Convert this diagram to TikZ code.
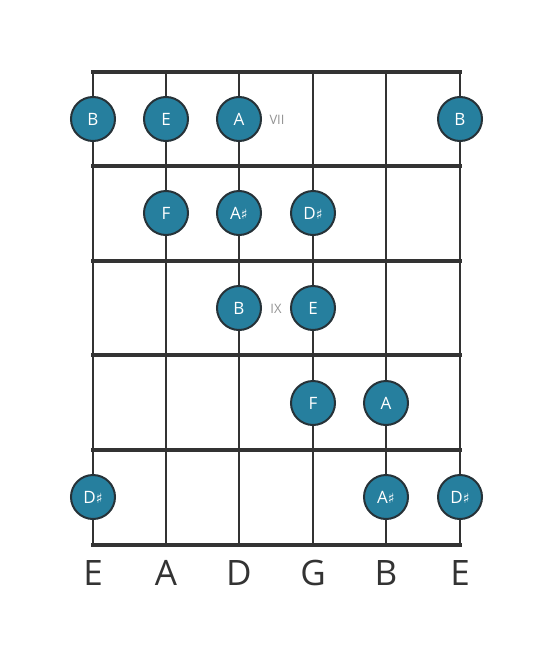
\documentclass[tikz,border=0pt]{standalone}
\usepackage{fontspec}
\setmainfont{Open Sans}
\newfontfamily\symfont{DejaVu Sans}
\definecolor{notefill}{HTML}{267F9E}
\definecolor{lineclr}{HTML}{333333}
\definecolor{edgeclr}{HTML}{263238}
\newcommand{\shp}{{\symfont\fontsize{14}{14}\selectfont ♯}}
\begin{document}
\begin{tikzpicture}[x=1pt,y=-1pt,
  stringline/.style={draw=lineclr,line width=2.4pt},
  fretline/.style={draw=lineclr,line width=4.8pt},
  note/.style={circle,fill=notefill,draw=edgeclr,line width=2pt,minimum size=44pt,inner sep=0pt,text=white,font=\fontsize{17}{17}\selectfont},
  fretlabel/.style={text=gray!85,font=\fontsize{13}{13}\selectfont,inner sep=0pt},
  strlabel/.style={text=lineclr,font=\fontsize{35}{35}\selectfont,inner sep=0pt}]
\useasboundingbox (0,0) rectangle (553,656);
% strings
\foreach \x [count=\i] in {93,166,239,313,386,460} {
  \coordinate (st\i) at (\x,72);
  \coordinate (sb\i) at (\x,545);
  \draw[stringline] (st\i) -- (sb\i);
}
% frets
\foreach \y [count=\j] in {72,166,261,355,450,545} {
  \coordinate (fl\j) at (93,\y);
  \coordinate (fr\j) at (460,\y);
  \draw[fretline,line cap=rect] (fl\j) -- (fr\j);
}
% notes
\node[note] (n1) at (93,119) {B};
\node[note] (n2) at (166,119) {E};
\node[note] (n3) at (239,119) {A};
\node[note] (n4) at (460,119) {B};
\node[fretlabel] (vii) at (277,120) {VII};
\node[note] (n5) at (166,213) {F};
\node[note] (n6) at (239,213) {A\shp};
\node[note] (n7) at (313,213) {D\shp};
\node[note] (n8) at (239,308) {B};
\node[fretlabel] (ix) at (276,309) {IX};
\node[note] (n9) at (313,308) {E};
\node[note] (n10) at (313,403) {F};
\node[note] (n11) at (386,403) {A};
\node[note] (n12) at (93,497) {D\shp};
\node[note] (n13) at (386,497) {A\shp};
\node[note] (n14) at (460,497) {D\shp};
% string names
\foreach \x/\s [count=\k] in {93/E,166/A,239/D,313/G,386/B,460/E} {
  \node[strlabel] (lab\k) at (\x,573) {\s};
}
\end{tikzpicture}
\end{document}
